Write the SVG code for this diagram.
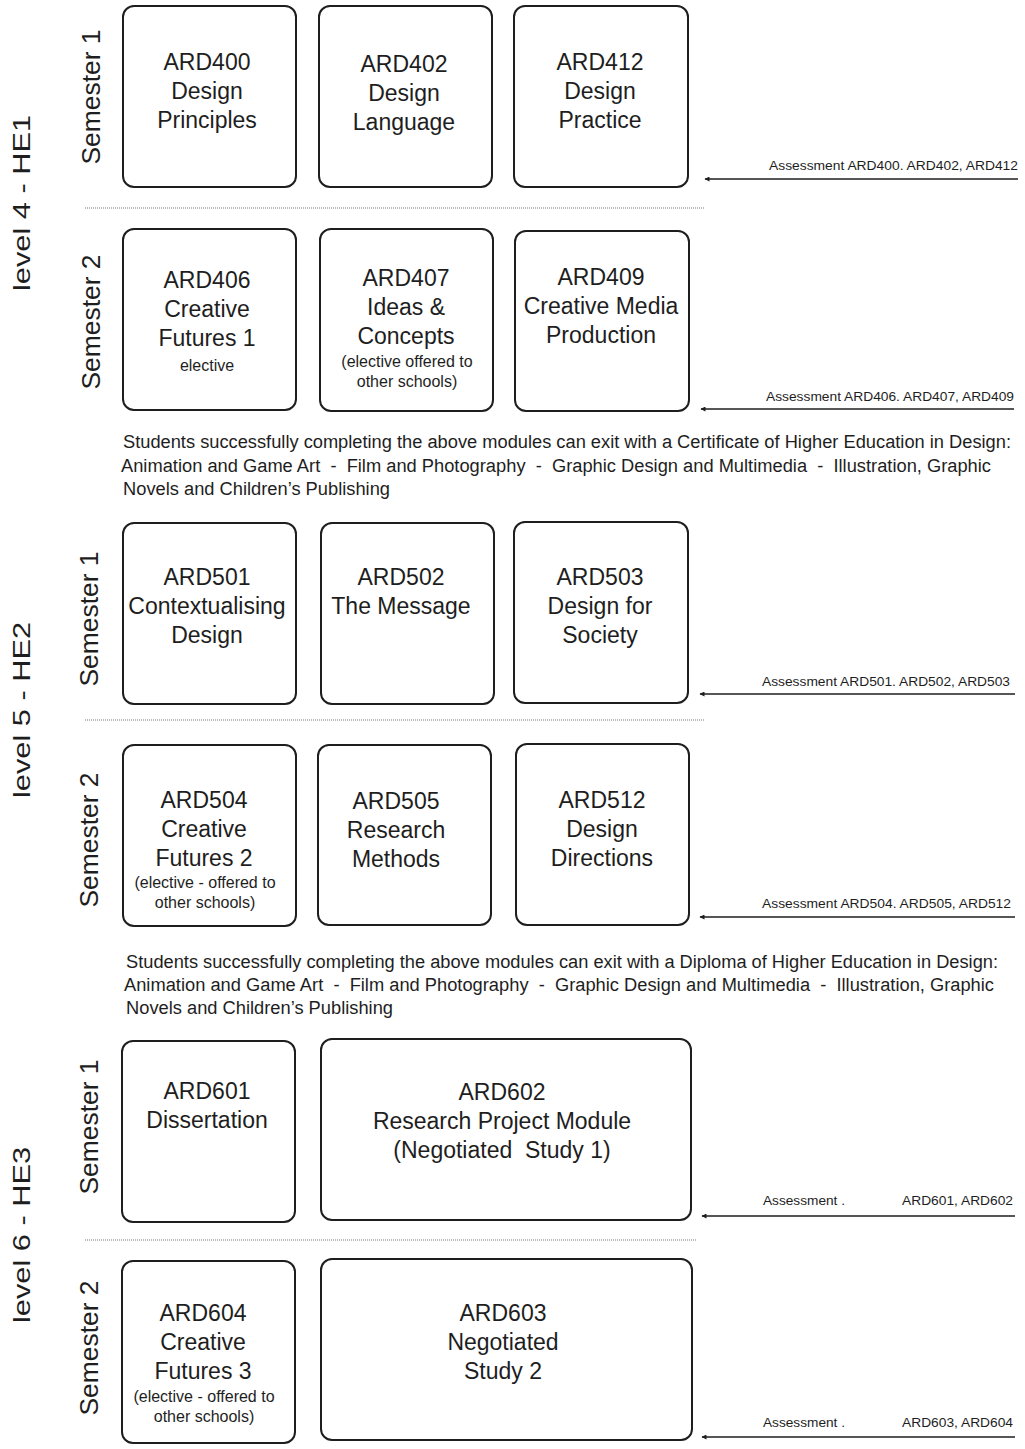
<svg xmlns="http://www.w3.org/2000/svg" width="1025" height="1449" viewBox="0 0 1025 1449">
<style>
text{font-family:"Liberation Sans",Arial,sans-serif;fill:#1e1e1e}
.box{fill:#fff;stroke:#1e1e1e;stroke-width:2}
.t{font-size:23px;text-anchor:middle}
.s{font-size:16px;text-anchor:middle}
.sem{font-size:25px;text-anchor:middle}
.lvl{font-size:24px;text-anchor:middle}
.p{font-size:18px}
.a{font-size:13px}
.ar{font-size:13px;text-anchor:end}
.dot{stroke:#777;stroke-width:1.2;stroke-dasharray:1 1;fill:none}
.arw{stroke:#1e1e1e;stroke-width:1.4;fill:none;marker-end:url(#ah)}
</style>
<defs>
<marker id="ah" viewBox="0 0 10 10" refX="9" refY="5" markerWidth="7" markerHeight="5" markerUnits="userSpaceOnUse" orient="auto"><path d="M0,0L10,5L0,10z" fill="#1e1e1e"/></marker>
</defs>
<rect width="1025" height="1449" fill="#fff"/>

<g id="labels">
<text class="lvl" transform="translate(30,203) rotate(-90)" textLength="176" lengthAdjust="spacingAndGlyphs">level 4 - HE1</text>
<text class="lvl" transform="translate(30,710) rotate(-90)" textLength="176" lengthAdjust="spacingAndGlyphs">level 5 - HE2</text>
<text class="lvl" transform="translate(30,1235) rotate(-90)" textLength="176" lengthAdjust="spacingAndGlyphs">level 6 - HE3</text>
<text class="sem" transform="translate(100,97) rotate(-90)" textLength="135" lengthAdjust="spacingAndGlyphs">Semester 1</text>
<text class="sem" transform="translate(100,322) rotate(-90)" textLength="135" lengthAdjust="spacingAndGlyphs">Semester 2</text>
<text class="sem" transform="translate(98,619) rotate(-90)" textLength="135" lengthAdjust="spacingAndGlyphs">Semester 1</text>
<text class="sem" transform="translate(98,840) rotate(-90)" textLength="135" lengthAdjust="spacingAndGlyphs">Semester 2</text>
<text class="sem" transform="translate(98,1127) rotate(-90)" textLength="135" lengthAdjust="spacingAndGlyphs">Semester 1</text>
<text class="sem" transform="translate(98,1348) rotate(-90)" textLength="135" lengthAdjust="spacingAndGlyphs">Semester 2</text>
</g>

<g id="separators">
<line class="dot" x1="85" y1="208" x2="705" y2="208"/>
<line class="dot" x1="85" y1="720" x2="705" y2="720"/>
<line class="dot" x1="85" y1="1240" x2="697" y2="1240"/>
</g>

<g id="ARD400"><rect class="box" x="123" y="6" width="173" height="181" rx="11"/>
<text class="t" x="207" y="70">ARD400</text><text class="t" x="207" y="99">Design</text><text class="t" x="207" y="128">Principles</text></g>
<g id="ARD402"><rect class="box" x="319" y="6" width="173" height="181" rx="11"/>
<text class="t" x="404" y="72">ARD402</text><text class="t" x="404" y="101">Design</text><text class="t" x="404" y="130">Language</text></g>
<g id="ARD412"><rect class="box" x="514" y="6" width="174" height="181" rx="11"/>
<text class="t" x="600" y="70">ARD412</text><text class="t" x="600" y="99">Design</text><text class="t" x="600" y="128">Practice</text></g>

<g id="ARD406"><rect class="box" x="123" y="229" width="173" height="181" rx="11"/>
<text class="t" x="207" y="288">ARD406</text><text class="t" x="207" y="317">Creative</text><text class="t" x="207" y="346">Futures 1</text><text class="s" x="207" y="371">elective</text></g>
<g id="ARD407"><rect class="box" x="320" y="229" width="173" height="182" rx="11"/>
<text class="t" x="406" y="286">ARD407</text><text class="t" x="406" y="315">Ideas &amp;</text><text class="t" x="406" y="344">Concepts</text><text class="s" x="407" y="367">(elective offered to</text><text class="s" x="407" y="387">other schools)</text></g>
<g id="ARD409"><rect class="box" x="515" y="231" width="174" height="180" rx="11"/>
<text class="t" x="601" y="285">ARD409</text><text class="t" x="601" y="314">Creative Media</text><text class="t" x="601" y="343">Production</text></g>

<g id="exit1">
<text class="p" x="123" y="448" textLength="888" lengthAdjust="spacingAndGlyphs">Students successfully completing the above modules can exit with a Certificate of Higher Education in Design:</text>
<text class="p" x="121" y="472" textLength="870" lengthAdjust="spacingAndGlyphs" xml:space="preserve">Animation and Game Art  -  Film and Photography  -  Graphic Design and Multimedia  -  Illustration, Graphic</text>
<text class="p" x="123" y="495" textLength="267" lengthAdjust="spacingAndGlyphs">Novels and Children’s Publishing</text>
</g>

<g id="ARD501"><rect class="box" x="123" y="523" width="173" height="181" rx="11"/>
<text class="t" x="207" y="585">ARD501</text><text class="t" x="207" y="614">Contextualising</text><text class="t" x="207" y="643">Design</text></g>
<g id="ARD502"><rect class="box" x="321" y="523" width="173" height="181" rx="11"/>
<text class="t" x="401" y="585">ARD502</text><text class="t" x="401" y="614">The Message</text></g>
<g id="ARD503"><rect class="box" x="514" y="522" width="174" height="181" rx="11"/>
<text class="t" x="600" y="585">ARD503</text><text class="t" x="600" y="614">Design for</text><text class="t" x="600" y="643">Society</text></g>

<g id="ARD504"><rect class="box" x="123" y="745" width="173" height="181" rx="11"/>
<text class="t" x="204" y="808">ARD504</text><text class="t" x="204" y="837">Creative</text><text class="t" x="204" y="866">Futures 2</text><text class="s" x="205" y="888">(elective - offered to</text><text class="s" x="205" y="908">other schools)</text></g>
<g id="ARD505"><rect class="box" x="318" y="745" width="173" height="180" rx="11"/>
<text class="t" x="396" y="809">ARD505</text><text class="t" x="396" y="838">Research</text><text class="t" x="396" y="867">Methods</text></g>
<g id="ARD512"><rect class="box" x="516" y="744" width="173" height="181" rx="11"/>
<text class="t" x="602" y="808">ARD512</text><text class="t" x="602" y="837">Design</text><text class="t" x="602" y="866">Directions</text></g>

<g id="exit2">
<text class="p" x="126" y="968" textLength="872" lengthAdjust="spacingAndGlyphs">Students successfully completing the above modules can exit with a Diploma of Higher Education in Design:</text>
<text class="p" x="124" y="991" textLength="870" lengthAdjust="spacingAndGlyphs" xml:space="preserve">Animation and Game Art  -  Film and Photography  -  Graphic Design and Multimedia  -  Illustration, Graphic</text>
<text class="p" x="126" y="1014" textLength="267" lengthAdjust="spacingAndGlyphs">Novels and Children’s Publishing</text>
</g>

<g id="ARD601"><rect class="box" x="122" y="1041" width="173" height="181" rx="11"/>
<text class="t" x="207" y="1099">ARD601</text><text class="t" x="207" y="1128">Dissertation</text></g>
<g id="ARD602"><rect class="box" x="321" y="1039" width="370" height="181" rx="11"/>
<text class="t" x="502" y="1100">ARD602</text><text class="t" x="502" y="1129">Research Project Module</text><text class="t" x="502" y="1158" xml:space="preserve">(Negotiated  Study 1)</text></g>

<g id="ARD604"><rect class="box" x="122" y="1261" width="173" height="182" rx="11"/>
<text class="t" x="203" y="1321">ARD604</text><text class="t" x="203" y="1350">Creative</text><text class="t" x="203" y="1379">Futures 3</text><text class="s" x="204" y="1402">(elective - offered to</text><text class="s" x="204" y="1422">other schools)</text></g>
<g id="ARD603"><rect class="box" x="321" y="1259" width="371" height="181" rx="11"/>
<text class="t" x="503" y="1321">ARD603</text><text class="t" x="503" y="1350">Negotiated</text><text class="t" x="503" y="1379">Study 2</text></g>

<g id="connectors">
<line class="arw" x1="1018" y1="179" x2="705" y2="179"/>
<line class="arw" x1="1014" y1="409" x2="701" y2="409"/>
<line class="arw" x1="1015" y1="694" x2="700" y2="694"/>
<line class="arw" x1="1015" y1="917" x2="700" y2="917"/>
<line class="arw" x1="1015" y1="1216" x2="702" y2="1216"/>
<line class="arw" x1="1015" y1="1437" x2="702" y2="1437"/>
</g>

<g id="assessments">
<text class="ar" x="1018" y="170" textLength="249" lengthAdjust="spacingAndGlyphs">Assessment ARD400. ARD402, ARD412</text>
<text class="ar" x="1014" y="401" textLength="248" lengthAdjust="spacingAndGlyphs">Assessment ARD406. ARD407, ARD409</text>
<text class="ar" x="1010" y="686" textLength="248" lengthAdjust="spacingAndGlyphs">Assessment ARD501. ARD502, ARD503</text>
<text class="ar" x="1011" y="908" textLength="249" lengthAdjust="spacingAndGlyphs">Assessment ARD504. ARD505, ARD512</text>
<text class="a" x="763" y="1205" textLength="82" lengthAdjust="spacingAndGlyphs">Assessment .</text>
<text class="ar" x="1013" y="1205" textLength="111" lengthAdjust="spacingAndGlyphs">ARD601, ARD602</text>
<text class="a" x="763" y="1427" textLength="82" lengthAdjust="spacingAndGlyphs">Assessment .</text>
<text class="ar" x="1013" y="1427" textLength="111" lengthAdjust="spacingAndGlyphs">ARD603, ARD604</text>
</g>
</svg>
